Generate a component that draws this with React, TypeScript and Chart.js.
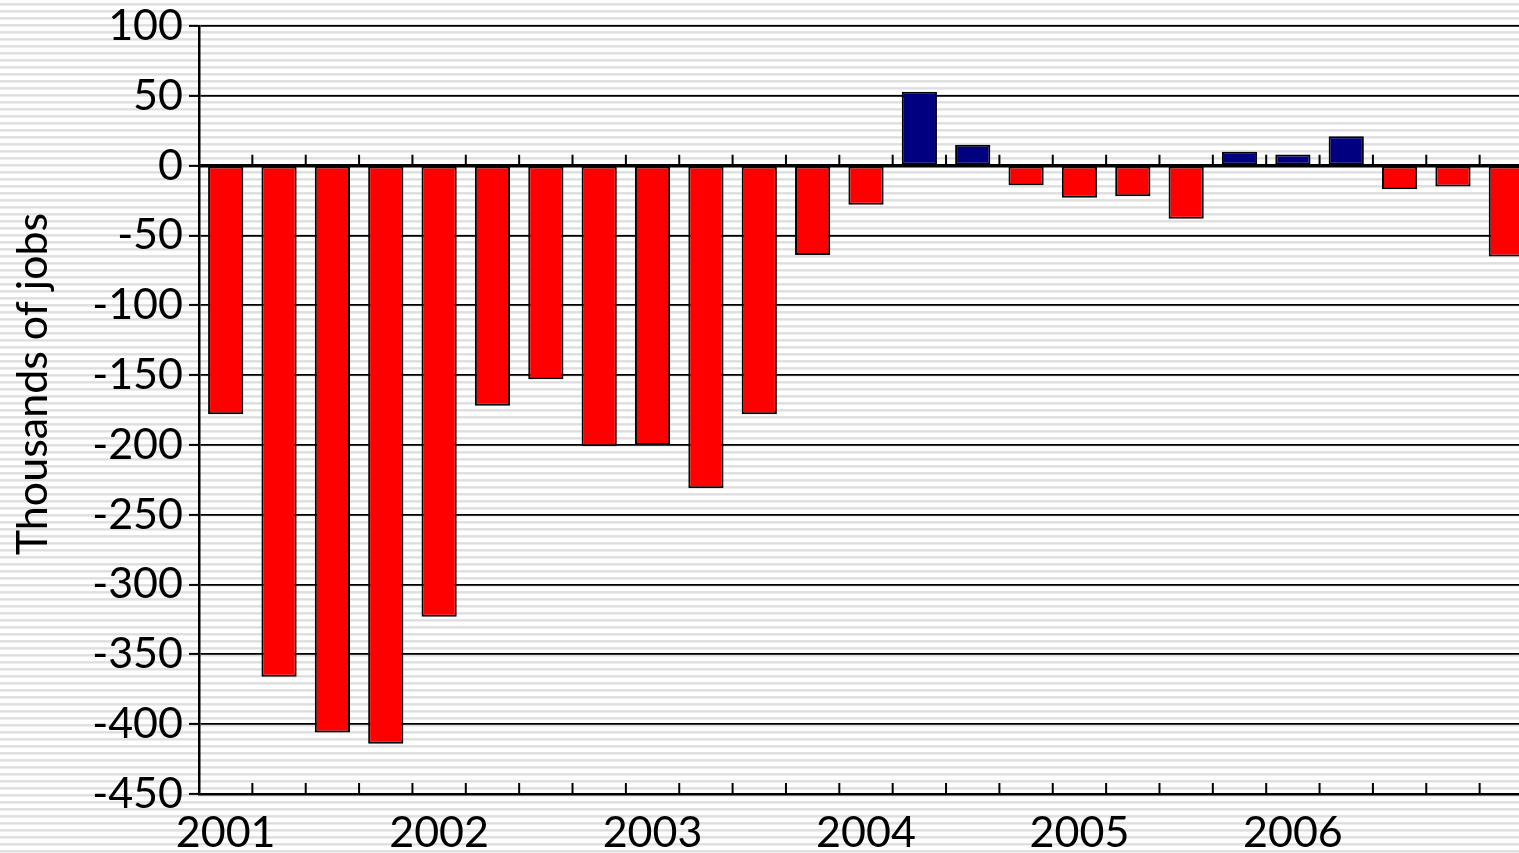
import React, { useEffect, useRef } from "react";
import { Chart, registerables } from "chart.js";

Chart.register(...registerables);

const quarters: string[] = [
  "2001", "", "", "",
  "2002", "", "", "",
  "2003", "", "", "",
  "2004", "", "", "",
  "2005", "", "", "",
  "2006", "", "", "",
  "",
];
const jobChange: number[] = [
  -178, -366, -406, -414,
  -323, -172, -153, -201,
  -200, -231, -178, -64,
  -28, 53, 15, -14,
  -23, -22, -38, 10,
  8, 21, -17, -15,
  -65,
];
const yTicks: number[] = [100, 50, 0, -50, -100, -150, -200, -250, -300, -350, -400, -450];
const yTitle = "Thousands of jobs";
const FONT = "Lato, 'Noto Sans', sans-serif";

export default function App() {
  const ref = useRef<HTMLCanvasElement | null>(null);
  useEffect(() => {
    if (!ref.current) return;
    const innerTicks = {
      id: "innerTicks",
      afterDatasetsDraw(chart: any) {
        const { ctx, chartArea, scales } = chart;
        const xs = scales.x;
        const ys = scales.y;
        const y0 = ys.getPixelForValue(0);
        const n = quarters.length;
        ctx.save();
        ctx.strokeStyle = "#000";
        ctx.lineWidth = 2;
        for (let i = 1; i < n; i++) {
          const bx = (xs.getPixelForValue(i - 1) + xs.getPixelForValue(i)) / 2;
          ctx.beginPath();
          ctx.moveTo(bx, y0);
          ctx.lineTo(bx, y0 - 11);
          ctx.moveTo(bx, chartArea.bottom);
          ctx.lineTo(bx, chartArea.bottom - 11);
          ctx.stroke();
        }
        ctx.lineWidth = 3.5;
        ctx.beginPath();
        ctx.moveTo(chartArea.left, y0);
        ctx.lineTo(chartArea.right, y0);
        ctx.stroke();
        // axis title
        const cy = (chartArea.top + chartArea.bottom) / 2 - 26;
        ctx.translate(33, cy);
        ctx.rotate(-Math.PI / 2);
        ctx.fillStyle = "#000";
        ctx.font = `43px ${FONT}`;
        ctx.textAlign = "center";
        ctx.textBaseline = "middle";
        ctx.fillText(yTitle, 0, 0);
        ctx.restore();
      },
    };
    const chart = new Chart(ref.current, {
      type: "bar",
      data: {
        labels: quarters,
        datasets: [
          {
            data: jobChange,
            backgroundColor: jobChange.map((v) => (v >= 0 ? "#000080" : "#ff0000")),
            borderColor: "#000",
            borderWidth: 2,
            borderSkipped: false,
            barPercentage: 0.66,
            categoryPercentage: 1,
          },
        ],
      },
      options: {
        responsive: false,
        animation: false,
        layout: { padding: { top: 26, right: 7, bottom: 0, left: 0 } },
        plugins: { legend: { display: false }, tooltip: { enabled: false } },
        scales: {
          x: {
            offset: true,
            grid: { display: false, drawTicks: false },
            border: { display: true, color: "#000", width: 2.5 },
            ticks: {
              autoSkip: false,
              maxRotation: 0,
              minRotation: 0,
              padding: 13,
              color: "#000",
              font: { family: FONT, size: 43 },
            },
            afterFit: (s: any) => {
              s.height = 59;
              s.paddingLeft = 0;
              s.paddingRight = 0;
            },
          },
          y: {
            min: -450,
            max: 100,
            afterBuildTicks: (s: any) => {
              s.ticks = yTicks.map((v) => ({ value: v }));
            },
            grid: {
              color: "#000",
              lineWidth: 1.8,
              drawTicks: true,
              tickLength: 10,
              tickColor: "#000",
              tickWidth: 2,
            },
            border: { display: true, color: "#000", width: 2.5 },
            ticks: {
              padding: 6,
              color: "#000",
              font: { family: FONT, size: 43 },
              callback: (v: any) => String(v),
            },
            title: { display: false },
            afterFit: (s: any) => {
              s.width = 199;
              s.paddingTop = 0;
              s.paddingBottom = 0;
            },
          },
        },
      },
      plugins: [innerTicks],
    });
    return () => chart.destroy();
  }, []);
  return (
    <div
      style={{
        position: "fixed",
        left: 0,
        top: 0,
        width: 1519,
        height: 853,
        overflow: "hidden",
        background:
          "repeating-linear-gradient(to bottom, #ffffff 0px, #ffffff 3px, #e4e4e4 3px, #dcdcdc 5px, #ffffff 6px, #ffffff 7px)",
      }}
    >
      <canvas ref={ref} width={1540} height={853} style={{ display: "block" }} />
    </div>
  );
}
